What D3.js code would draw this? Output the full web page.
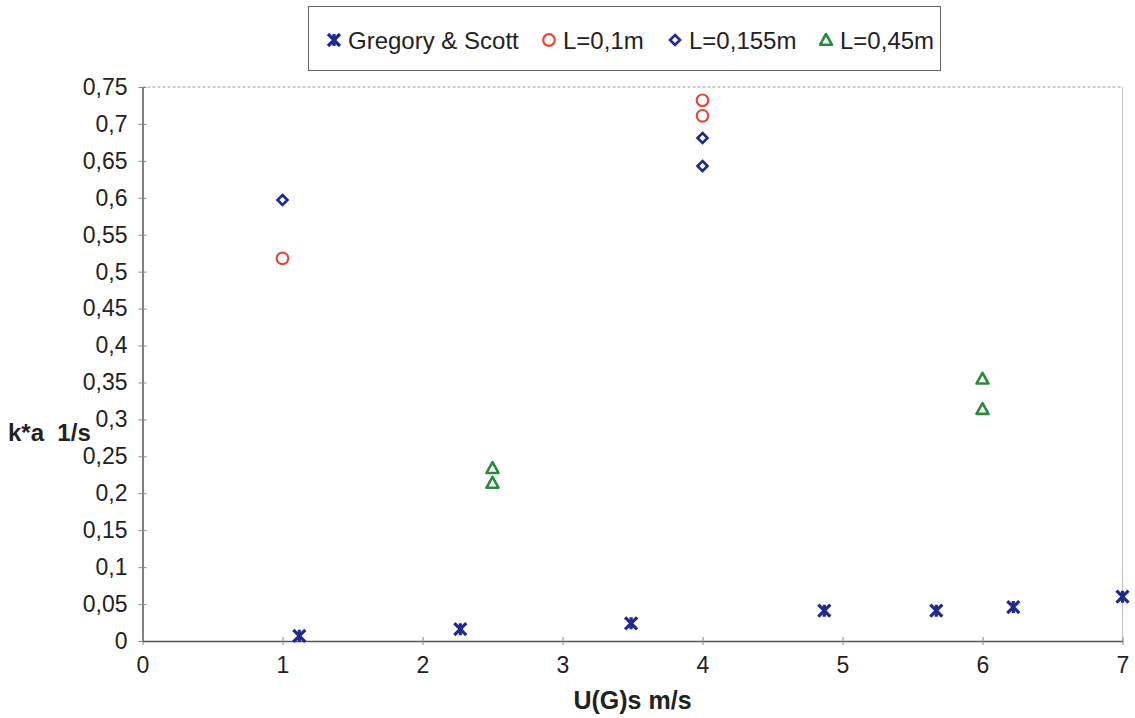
<!DOCTYPE html>
<html>
<head>
<meta charset="utf-8">
<script src="https://cdn.jsdelivr.net/npm/d3@7/dist/d3.min.js"></script>
<style>
  body { margin: 0; background: #fff; }
  svg { display: block; font-family: "Liberation Sans", Arial, sans-serif; }
</style>
</head>
<body>
<svg id="chart" width="1135" height="718"></svg>
<script>
// Mass-transfer coefficient k*a vs superficial gas velocity
const xTicks = [0, 1, 2, 3, 4, 5, 6, 7];
const yTicks = [0, 0.05, 0.1, 0.15, 0.2, 0.25, 0.3, 0.35, 0.4, 0.45, 0.5, 0.55, 0.6, 0.65, 0.7, 0.75];

const gregoryX = [1.12, 2.27, 3.49, 4.87, 5.67, 6.22, 7.0];
const gregoryY = [0.007, 0.016, 0.024, 0.041, 0.041, 0.046, 0.060];

const l010X = [1, 4, 4];
const l010Y = [0.518, 0.732, 0.711];

const l0155X = [1, 4, 4];
const l0155Y = [0.597, 0.681, 0.643];

const l045X = [2.5, 2.5, 6, 6];
const l045Y = [0.234, 0.214, 0.355, 0.314];

const seriesNames = ["Gregory & Scott", "L=0,1m", "L=0,155m", "L=0,45m"];

const colors = { blue: "#1d2a8e", red: "#e8483a", navy: "#1d2a8e", green: "#2c8a3c" };

const svg = d3.select("#chart");
const plotLeft = 142.5, plotRight = 1122.5, plotTop = 87, plotBottom = 641;

const x = d3.scaleLinear().domain([0, 7]).range([plotLeft, plotRight]);
const y = d3.scaleLinear().domain([0, 0.75]).range([plotBottom, plotTop]);
const fmt = d => String(d).replace(".", ",");

// plot frame: dashed top, light right edge
svg.append("line").attr("x1", plotLeft).attr("x2", plotRight).attr("y1", plotTop).attr("y2", plotTop)
  .attr("stroke", "#9a9a9a").attr("stroke-width", 1).attr("stroke-dasharray", "3,2");
svg.append("line").attr("x1", plotRight).attr("x2", plotRight).attr("y1", plotTop).attr("y2", plotBottom)
  .attr("stroke", "#c0c0c0").attr("stroke-width", 1);

// axes
const yAxis = d3.axisLeft(y).tickValues(yTicks).tickFormat(fmt).tickSizeInner(4).tickSizeOuter(0).tickPadding(11);
const gy = svg.append("g").attr("transform", `translate(${plotLeft},0)`).call(yAxis);
gy.select(".domain").attr("stroke", "#555").attr("stroke-width", 1.5);
gy.selectAll(".tick line").attr("x1", -4).attr("x2", 4).attr("stroke", "#888");
gy.selectAll(".tick text").attr("font-size", 23).attr("fill", "#222").attr("font-family", "Liberation Sans, Arial, sans-serif");

const xAxis = d3.axisBottom(x).tickValues(xTicks).tickFormat(fmt).tickSizeInner(4).tickSizeOuter(0).tickPadding(12);
const gx = svg.append("g").attr("transform", `translate(0,${plotBottom})`).call(xAxis);
gx.select(".domain").attr("stroke", "#555").attr("stroke-width", 1.5);
gx.selectAll(".tick line").attr("y1", -4).attr("y2", 4).attr("stroke", "#888");
gx.selectAll(".tick text").attr("font-size", 23).attr("fill", "#222").attr("font-family", "Liberation Sans, Arial, sans-serif");

// axis titles
svg.append("text").attr("x", (plotLeft + plotRight) / 2).attr("y", 709).attr("text-anchor", "middle")
  .attr("font-size", 25).attr("font-weight", "bold").attr("fill", "#222").text("U(G)s m/s");
svg.append("text").attr("x", 8).attr("y", 441)
  .attr("font-size", 24).attr("font-weight", "bold").attr("fill", "#222")
  .style("white-space", "pre").text("k*a  1/s");

// marker drawers
function star(g, cx, cy) {
  const s = 6;
  g.append("path")
    .attr("d", `M${cx - s},${cy - s}L${cx + s},${cy + s}M${cx - s},${cy + s}L${cx + s},${cy - s}M${cx},${cy - s}L${cx},${cy + s}`)
    .attr("stroke", colors.blue).attr("stroke-width", 3.2).attr("fill", "none");
}
function circle(g, cx, cy) {
  g.append("circle").attr("cx", cx).attr("cy", cy).attr("r", 5.8)
    .attr("stroke", colors.red).attr("stroke-width", 2.2).attr("fill", "none");
}
function diamond(g, cx, cy) {
  const s = 5;
  g.append("path").attr("d", `M${cx},${cy - s}L${cx + s},${cy}L${cx},${cy + s}L${cx - s},${cy}Z`)
    .attr("stroke", colors.navy).attr("stroke-width", 2.6).attr("fill", "none");
}
function triangle(g, cx, cy) {
  const s = 6;
  g.append("path").attr("d", `M${cx},${cy - s}L${cx + s},${cy + s * 0.8}L${cx - s},${cy + s * 0.8}Z`)
    .attr("stroke", colors.green).attr("stroke-width", 2.6).attr("fill", "none").attr("stroke-linejoin", "round");
}

const marks = svg.append("g");
gregoryX.forEach((d, i) => star(marks, x(d), y(gregoryY[i])));
l010X.forEach((d, i) => circle(marks, x(d), y(l010Y[i])));
l0155X.forEach((d, i) => diamond(marks, x(d), y(l0155Y[i])));
l045X.forEach((d, i) => triangle(marks, x(d), y(l045Y[i])));

// legend
const lg = svg.append("g");
lg.append("rect").attr("x", 308.5).attr("y", 6.5).attr("width", 632).attr("height", 64)
  .attr("fill", "#fff").attr("stroke", "#666").attr("stroke-width", 1);
const legendX = [334, 549, 675, 826];
const drawers = [star, circle, diamond, triangle];
seriesNames.forEach((name, i) => {
  drawers[i](lg, legendX[i], 40);
  lg.append("text").attr("x", legendX[i] + 14).attr("y", 49)
    .attr("font-size", 24).attr("fill", "#222").text(name);
});
</script>
</body>
</html>
